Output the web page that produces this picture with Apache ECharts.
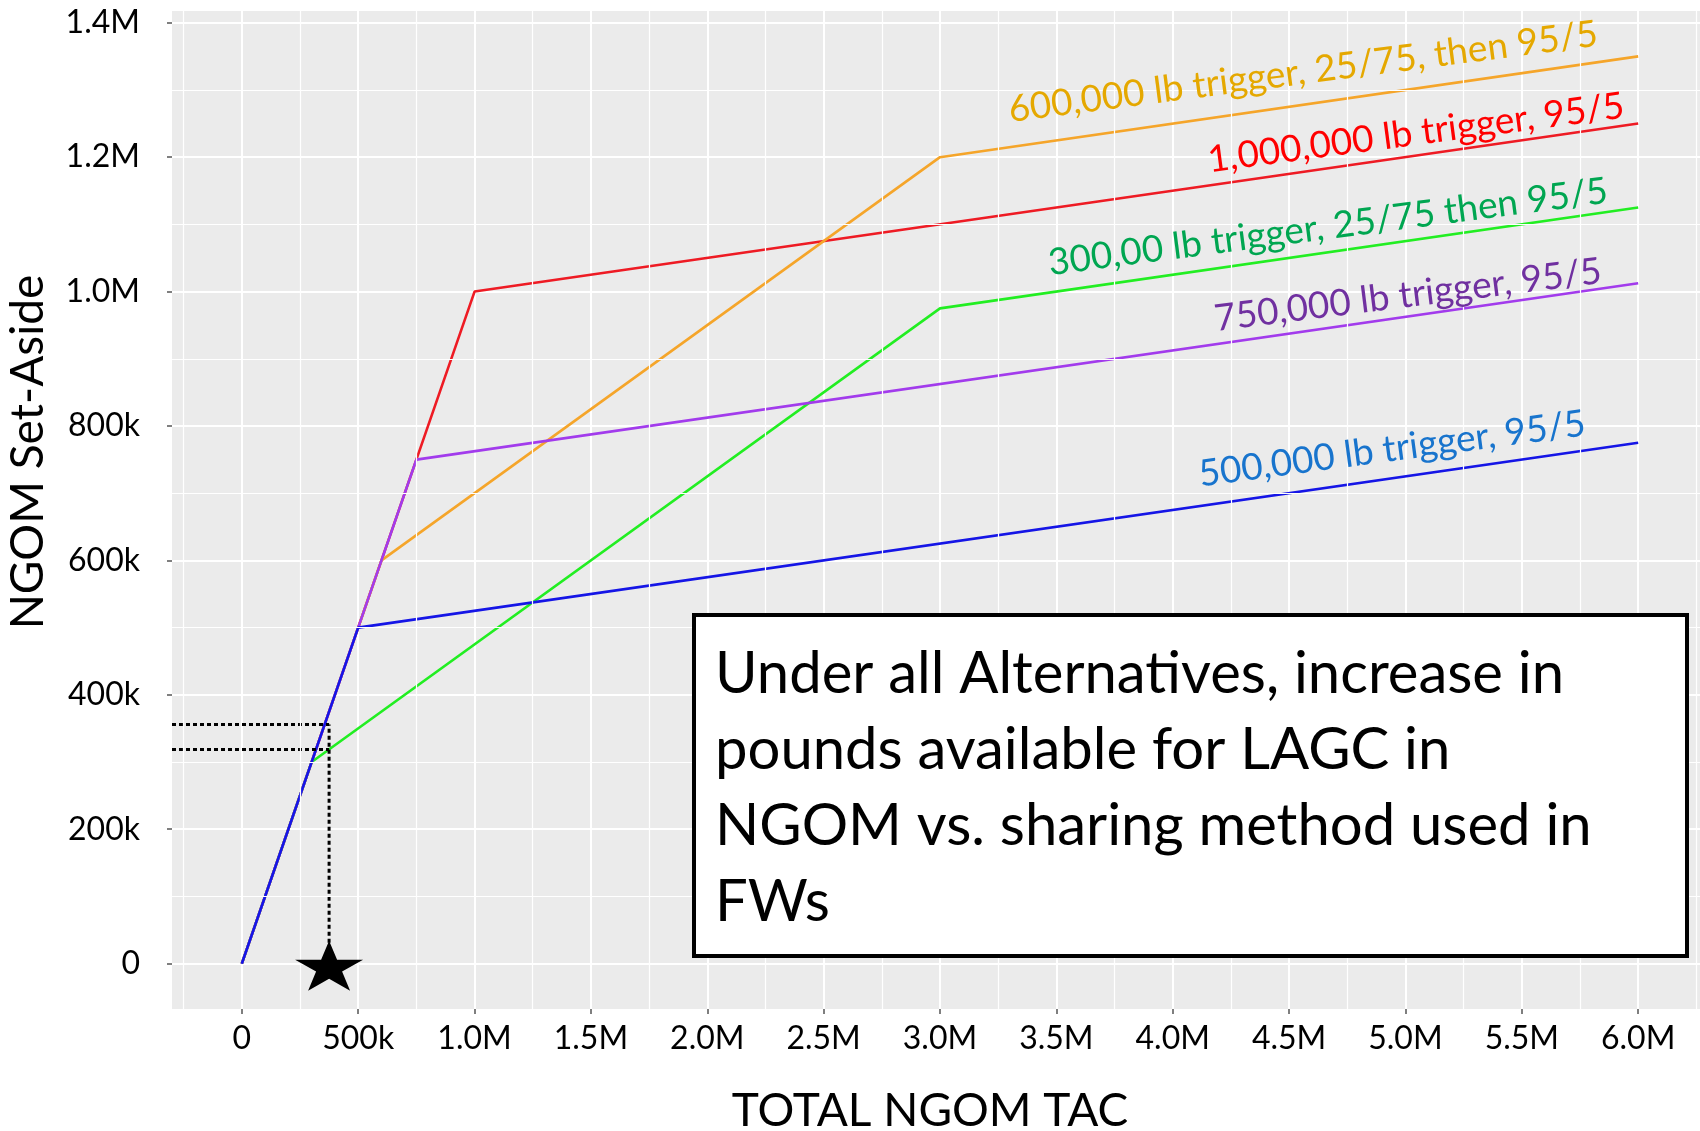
<!DOCTYPE html>
<html lang="en">
<head>
<meta charset="UTF-8">
<title>NGOM Set-Aside vs Total NGOM TAC</title>
<style>
  html, body { margin: 0; padding: 0; background: #ffffff; }
  #main { width: 1700px; height: 1131px; }
</style>
</head>
<body>
<div id="main"></div>
<script src="https://cdn.jsdelivr.net/npm/echarts/dist/echarts.min.js"></script>
<script>
// breakpoints of each sharing rule: total NGOM TAC -> NGOM set-aside (lb)
var redTac = [0, 1000000, 6000000];
var redSetAside = [0, 1000000, 1250000];
var orangeTac = [0, 600000, 3000000, 6000000];
var orangeSetAside = [0, 600000, 1200000, 1350000];
var greenTac = [0, 300000, 3000000, 6000000];
var greenSetAside = [0, 300000, 975000, 1125000];
var purpleTac = [0, 750000, 6000000];
var purpleSetAside = [0, 750000, 1012500];
var blueTac = [0, 500000, 6000000];
var blueSetAside = [0, 500000, 775000];

// star marker and dotted read-off lines
var starTac = [375000];
var starSetAside = [0];
var guideTac = 375000;
var guideSetAside = [356000, 318750];

// axis ticks and minor grid
var xTicks = [0, 500000, 1000000, 1500000, 2000000, 2500000, 3000000, 3500000, 4000000, 4500000, 5000000, 5500000, 6000000];
var yTicks = [0, 200000, 400000, 600000, 800000, 1000000, 1200000, 1400000];
var xMinor = [-250000, 250000, 750000, 1250000, 1750000, 2250000, 2750000, 3250000, 3750000, 4250000, 4750000, 5250000, 5750000, 6250000];
var yMinor = [100000, 300000, 500000, 700000, 900000, 1100000, 1300000];

var xMin = -300000, xMax = 6300000;
var yMin = -67500, yMax = 1417500;

function pairs(xs, ys) {
    return xs.map(function (x, i) { return [x, ys[i]]; });
}

function fmt(v) {
    if (v === 0) return '0';
    if (Math.abs(v) < 1000000) return (v / 1000) + 'k';
    return (v / 1000000).toFixed(1) + 'M';
}

var font = 'Lato';

function trendLine(name, xs, ys, color) {
    return {
        name: name,
        type: 'line',
        data: pairs(xs, ys),
        symbol: 'none',
        lineStyle: { color: color, width: 2.6 },
        z: 3
    };
}

function guide(data) {
    return {
        type: 'line',
        data: data,
        symbol: 'none',
        lineStyle: { color: '#000', width: 3, type: [4, 3] },
        z: 4
    };
}

var chartDom = document.getElementById('main');
var myChart = echarts.init(chartDom);

var deg = Math.PI / 180;
function lineLabel(text, color, x, y, angle) {
    return {
        type: 'text',
        x: x,
        y: y,
        rotation: angle * deg,
        z: 100,
        style: {
            text: text,
            fill: color,
            font: '37px ' + font,
            textAlign: 'center',
            textVerticalAlign: 'middle'
        }
    };
}

var option = {
    animation: false,
    backgroundColor: '#ffffff',
    grid: {
        left: 172,
        right: -8,
        top: 11,
        bottom: 122,
        outerBoundsMode: 'none',
        containLabel: false,
        show: true,
        backgroundColor: '#EBEBEB',
        borderWidth: 0
    },
    xAxis: {
        type: 'value',
        min: xMin,
        max: xMax,
        minInterval: 500000,
        maxInterval: 500000,
        name: 'TOTAL NGOM TAC',
        nameLocation: 'middle',
        nameGap: 79,
        nameTextStyle: { fontFamily: font, fontSize: 46, color: '#000', padding: [0, 20, 0, 0] },
        axisLine: { show: false, onZero: false },
        axisTick: { show: true, inside: false, length: 5, lineStyle: { color: '#555', width: 1.5 }, customValues: xTicks },
        axisLabel: { customValues: xTicks, formatter: fmt, fontFamily: font, fontSize: 32, color: '#000', margin: 14 },
        splitLine: { show: true, lineStyle: { color: '#ffffff', width: 2 } }
    },
    yAxis: {
        type: 'value',
        min: yMin,
        max: yMax,
        minInterval: 200000,
        maxInterval: 200000,
        name: 'NGOM Set-Aside',
        nameLocation: 'middle',
        nameGap: 121,
        nameTextStyle: { fontFamily: font, fontSize: 46, color: '#000', padding: [0, 0, 0, 116] },
        axisLine: { show: false, onZero: false },
        axisTick: { show: true, inside: false, length: 5, lineStyle: { color: '#555', width: 1.5 }, customValues: yTicks },
        axisLabel: { customValues: yTicks, formatter: fmt, fontFamily: font, fontSize: 32, color: '#000', margin: 32 },
        splitLine: { show: true, lineStyle: { color: '#ffffff', width: 2 } }
    },
    series: [
        {
            // minor grid lines
            type: 'line',
            data: [],
            z: 1,
            silent: true,
            markLine: {
                silent: true,
                symbol: ['none', 'none'],
                label: { show: false },
                lineStyle: { color: '#ffffff', width: 1.2, type: 'solid' },
                data: xMinor.map(function (v) { return { xAxis: v }; })
                    .concat(yMinor.map(function (v) { return { yAxis: v }; }))
            }
        },
        trendLine('1,000,000 lb trigger, 95/5', redTac, redSetAside, '#EE1B24'),
        trendLine('600,000 lb trigger, 25/75, then 95/5', orangeTac, orangeSetAside, '#F5A52A'),
        trendLine('300,00 lb trigger, 25/75 then 95/5', greenTac, greenSetAside, '#22EE22'),
        trendLine('750,000 lb trigger, 95/5', purpleTac, purpleSetAside, '#A23BEC'),
        trendLine('500,000 lb trigger, 95/5', blueTac, blueSetAside, '#1515E6'),
        guide([[guideTac, 0], [guideTac, guideSetAside[0]]]),
        guide([[xMin, guideSetAside[0]], [guideTac, guideSetAside[0]]]),
        guide([[xMin, guideSetAside[1]], [guideTac, guideSetAside[1]]]),
        {
            type: 'scatter',
            data: pairs(starTac, starSetAside),
            symbol: 'path://M50,0 L61.2,34.5 L97.6,34.5 L68.2,55.9 L79.4,90.5 L50,69.1 L20.6,90.5 L31.8,55.9 L2.4,34.5 L38.8,34.5 Z',
            symbolSize: [68, 50],
            symbolOffset: [0, 2],
            itemStyle: { color: '#000', opacity: 1 },
            z: 5
        }
    ],
    graphic: [
        lineLabel('600,000 lb trigger, 25/75, then 95/5', '#E5A800', 1303, 72, 7.4),
        lineLabel('1,000,000 lb trigger, 95/5', '#FF0000', 1416, 133, 7.5),
        lineLabel('300,00 lb trigger, 25/75 then 95/5', '#00A651', 1328, 227, 7.4),
        lineLabel('750,000 lb trigger, 95/5', '#7030A0', 1408, 295, 7.1),
        lineLabel('500,000 lb trigger, 95/5', '#1874CD', 1392, 449, 7.6),
        {
            type: 'rect',
            z: 100,
            shape: { x: 694, y: 615, width: 993, height: 341 },
            style: { fill: '#ffffff', stroke: '#000000', lineWidth: 4 }
        },
        {
            type: 'text',
            z: 101,
            x: 715,
            y: 636,
            style: {
                text: 'Under all Alternatives, increase in\npounds available for LAGC in\nNGOM vs. sharing method used in\nFWs',
                fill: '#000',
                font: '58px ' + font,
                lineHeight: 76,
                textAlign: 'left',
                textVerticalAlign: 'top'
            }
        }
    ]
};

myChart.setOption(option);
</script>
</body>
</html>
